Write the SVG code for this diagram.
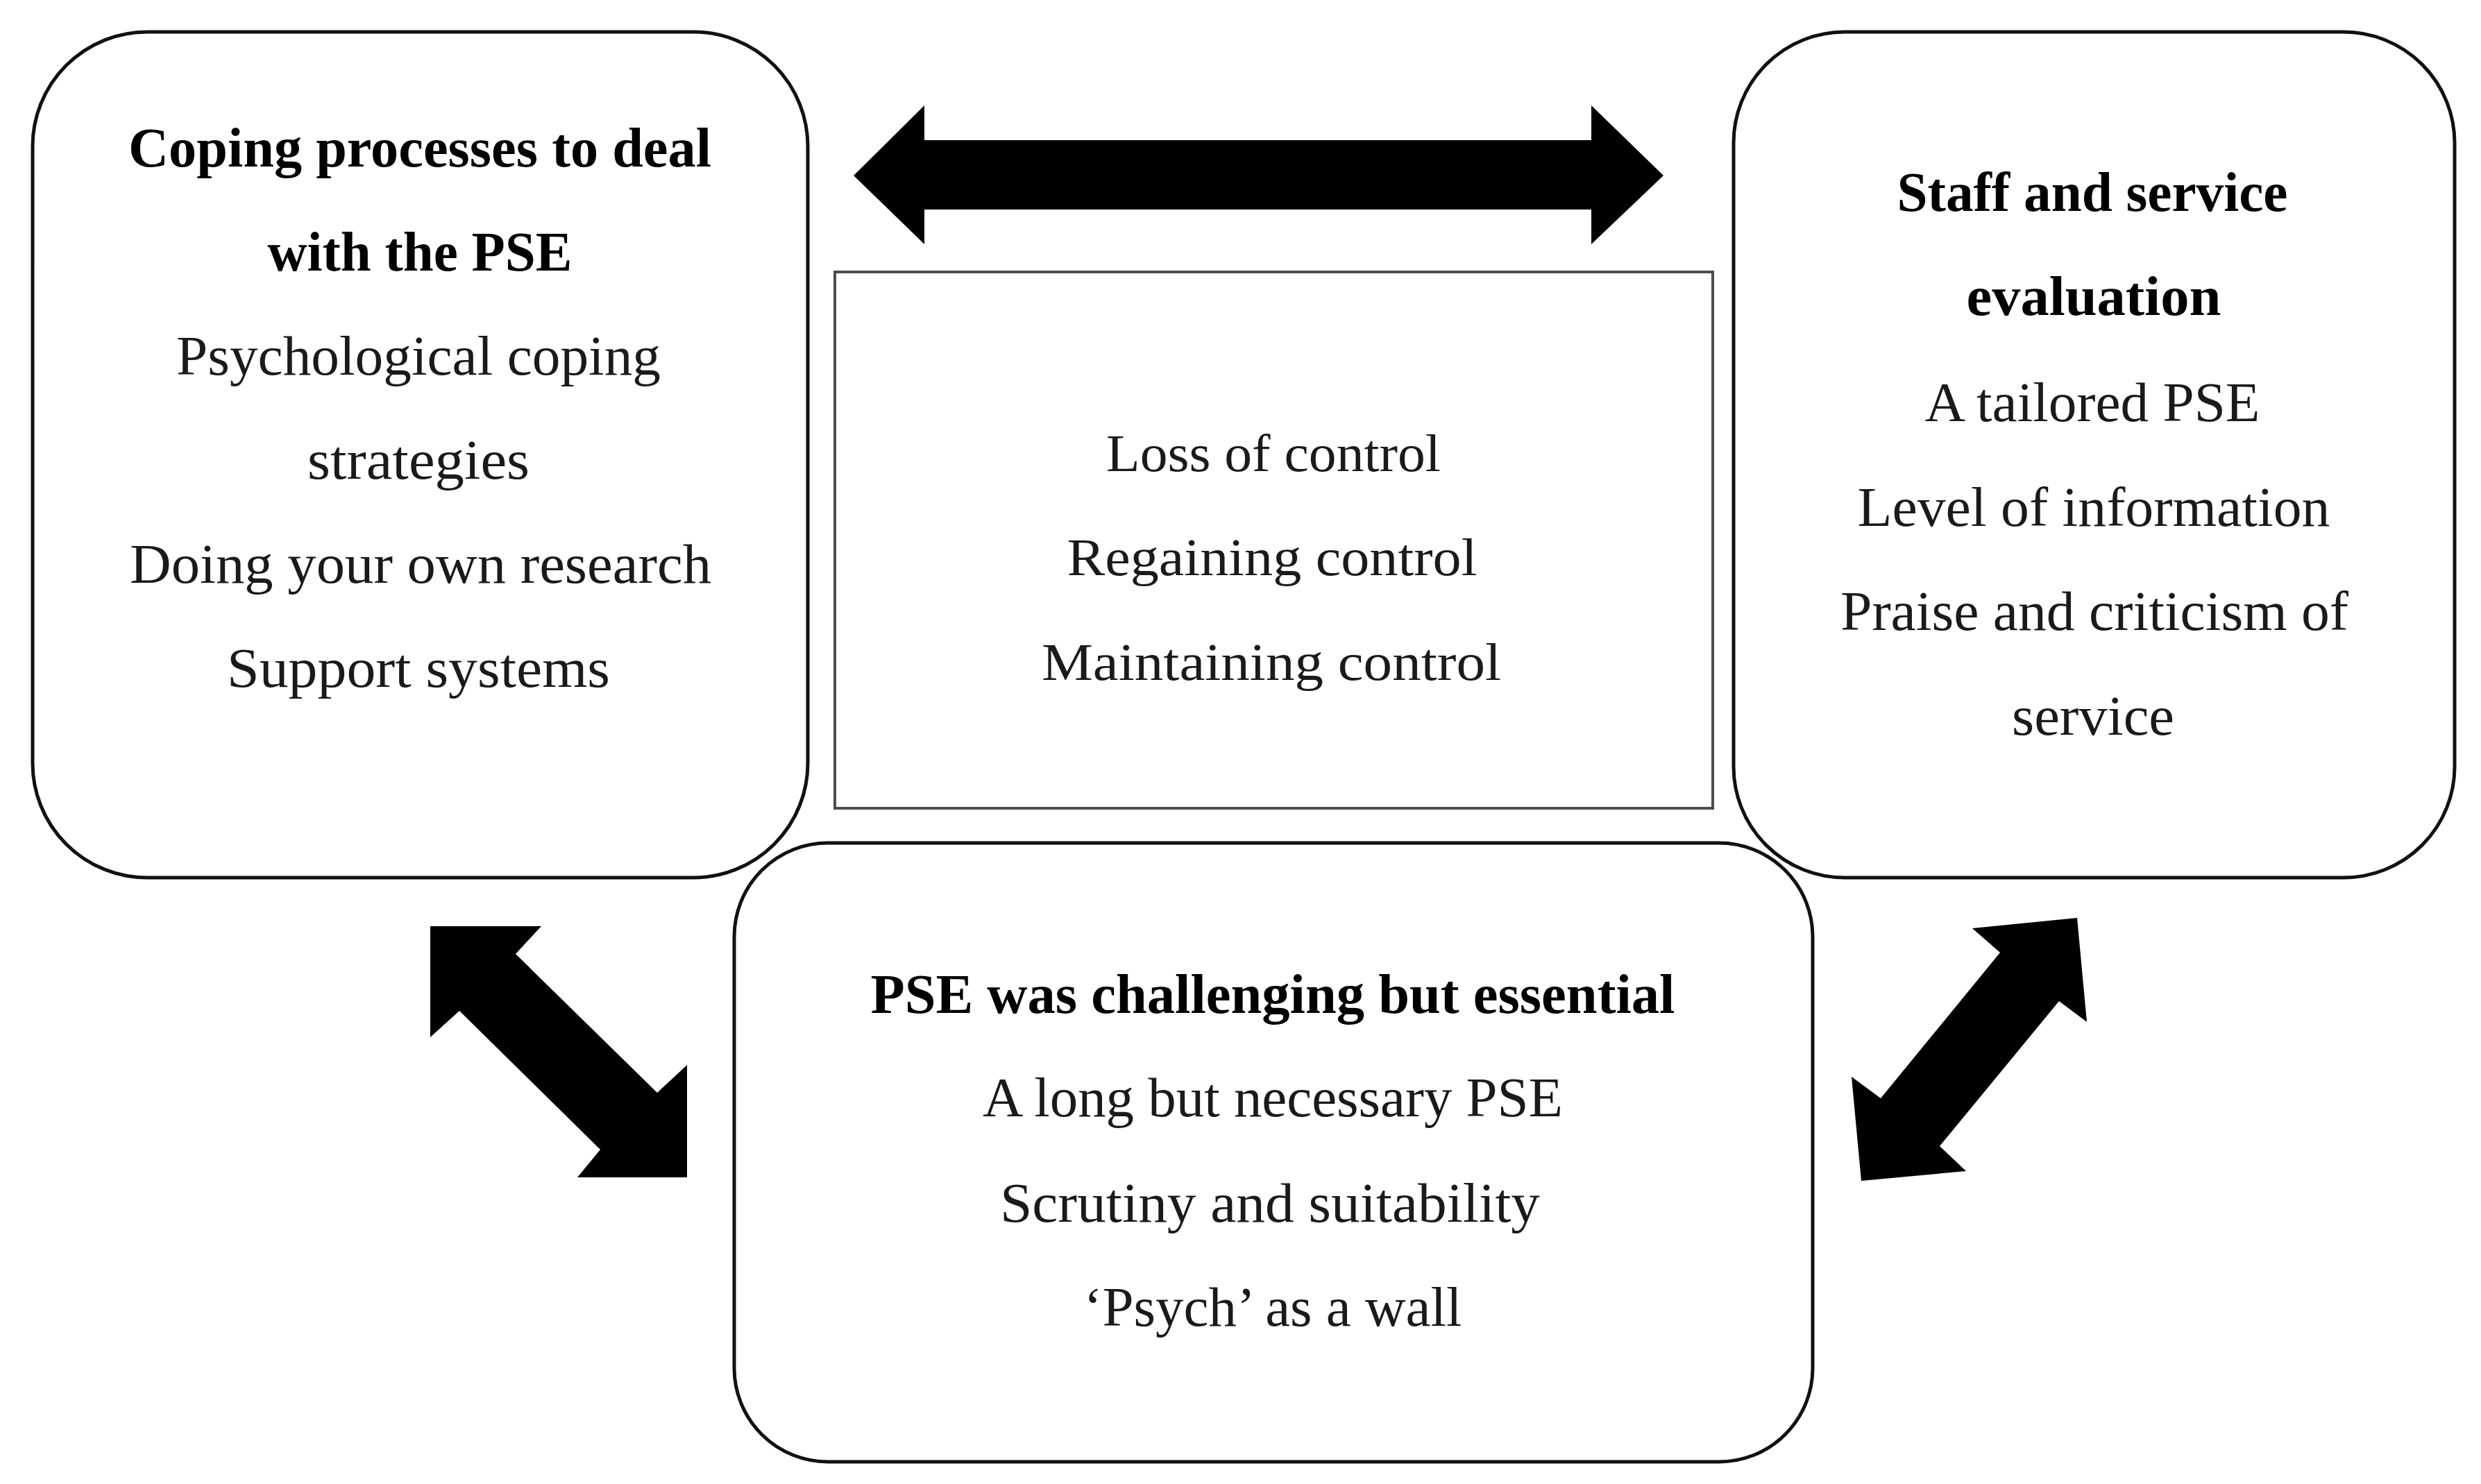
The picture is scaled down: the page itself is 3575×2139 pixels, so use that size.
<svg xmlns="http://www.w3.org/2000/svg" width="3575" height="2139" viewBox="0 0 3575 2139">
<style>
.box{fill:#fff;stroke:#111;stroke-width:5}
.rect{fill:#fff;stroke:#4d4d4d;stroke-width:4}
.t{font-family:"Liberation Serif","DejaVu Serif",serif;font-size:80px;fill:#1a1a1a;text-anchor:middle}
.b{font-weight:bold;fill:#000}
.c{font-size:77px}
.arrow{fill:#000;stroke:none}
</style>
<rect width="3575" height="2139" fill="#fff"/>
<g id="connectors">
<polygon class="arrow" points="1230,253 1332,152 1332,202 2293,202 2293,152 2397,253 2293,352 2293,302 1332,302 1332,352"/>
<polygon class="arrow" points="620,1335 780,1335 743,1375 947,1575 990,1535 990,1697 832,1697 865,1657 662,1457 620,1495"/>
<polygon class="arrow" points="2993,1323 3007,1473 2967,1443 2795,1652 2833,1688 2682,1702 2668,1552 2710,1583 2882,1373 2842,1338"/>
</g>
<g id="coping">
<rect class="box" x="47" y="46" width="1117" height="1219" rx="165" ry="165"/>
<text class="t b" x="605" y="240" textLength="840" lengthAdjust="spacingAndGlyphs">Coping processes to deal</text>
<text class="t b" x="605" y="390" textLength="439" lengthAdjust="spacingAndGlyphs">with the PSE</text>
<text class="t" x="603" y="540" textLength="698" lengthAdjust="spacingAndGlyphs">Psychological coping</text>
<text class="t" x="603" y="690" textLength="320" lengthAdjust="spacingAndGlyphs">strategies</text>
<text class="t" x="606" y="840" textLength="838" lengthAdjust="spacingAndGlyphs">Doing your own research</text>
<text class="t" x="603" y="990" textLength="552" lengthAdjust="spacingAndGlyphs">Support systems</text>
</g>
<g id="control">
<rect class="rect" x="1203" y="392" width="1265" height="773"/>
<text class="t c" x="1835" y="679" textLength="482" lengthAdjust="spacingAndGlyphs">Loss of control</text>
<text class="t c" x="1833" y="829" textLength="591" lengthAdjust="spacingAndGlyphs">Regaining control</text>
<text class="t c" x="1832" y="980" textLength="662" lengthAdjust="spacingAndGlyphs">Maintaining control</text>
</g>
<g id="staff">
<rect class="box" x="2498" y="46" width="1039" height="1219" rx="160" ry="160"/>
<text class="t b" x="3015" y="304" textLength="563" lengthAdjust="spacingAndGlyphs">Staff and service</text>
<text class="t b" x="3017" y="454" textLength="367" lengthAdjust="spacingAndGlyphs">evaluation</text>
<text class="t" x="3015" y="607" textLength="483" lengthAdjust="spacingAndGlyphs">A tailored PSE</text>
<text class="t" x="3017" y="758" textLength="681" lengthAdjust="spacingAndGlyphs">Level of information</text>
<text class="t" x="3018" y="908" textLength="732" lengthAdjust="spacingAndGlyphs">Praise and criticism of</text>
<text class="t" x="3016" y="1059" textLength="234" lengthAdjust="spacingAndGlyphs">service</text>
</g>
<g id="pse">
<rect class="box" x="1058" y="1215" width="1554" height="892" rx="135" ry="135"/>
<text class="t b" x="1834" y="1460" textLength="1159" lengthAdjust="spacingAndGlyphs">PSE was challenging but essential</text>
<text class="t" x="1834" y="1609" textLength="836" lengthAdjust="spacingAndGlyphs">A long but necessary PSE</text>
<text class="t" x="1830" y="1761" textLength="778" lengthAdjust="spacingAndGlyphs">Scrutiny and suitability</text>
<text class="t" x="1834" y="1911" textLength="545" lengthAdjust="spacingAndGlyphs">‘Psych’ as a wall</text>
</g>
</svg>
